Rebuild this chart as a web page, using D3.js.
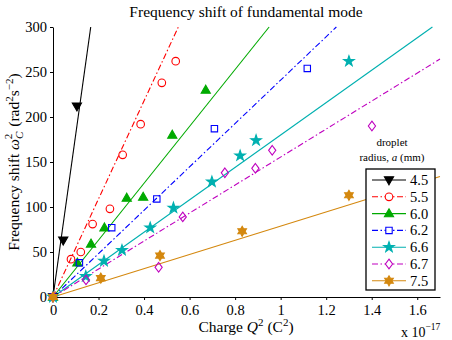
<!DOCTYPE html>
<html>
<head>
<meta charset="utf-8">
<script src="https://cdn.jsdelivr.net/npm/d3@7"></script>
<style>
  body { margin: 0; background: #fff; }
  svg { display: block; }
  text { font-family: "Liberation Serif", "Times New Roman", serif; fill: #000; }
</style>
</head>
<body>
<div id="chart"></div>
<script>
// droplet radius (mm), one series each
var radii = ["4.5", "5.5", "6.0", "6.2", "6.6", "6.7", "7.5"];

// charge Q^2 (x 1e-17 C^2) and frequency shift (rad^2 s^-2)
var q45 = [0, 0.045, 0.105];
var w45 = [0, 63, 212];
var q55 = [0, 0.079, 0.122, 0.174, 0.250, 0.306, 0.385, 0.478, 0.539];
var w55 = [0, 42, 50, 81, 98, 158, 192, 238, 262];
var q60 = [0, 0.107, 0.167, 0.226, 0.324, 0.396, 0.524, 0.671];
var w60 = [0, 38, 59, 77, 110, 111, 180, 230];
var q62 = [0, 0.116, 0.258, 0.456, 0.709, 1.117];
var w62 = [0, 38, 77, 109, 187, 254];
var q66 = [0, 0.144, 0.224, 0.303, 0.427, 0.529, 0.698, 0.822, 0.892, 1.300];
var w66 = [0, 23, 40, 52, 77, 99, 128, 157, 174, 262];
var q67 = [0, 0.145, 0.464, 0.570, 0.755, 0.889, 0.963, 1.401];
var w67 = [0, 19, 33, 89, 138, 143, 163, 190];
var q75 = [0, 0.210, 0.470, 0.831, 1.300];
var w75 = [0, 21, 46, 73, 113];

// fitted slopes of the lines through the origin
var slopes = [1810, 545, 316, 241, 180, 155.5, 78.7];

var xTicks = [0, 0.2, 0.4, 0.6, 0.8, 1, 1.2, 1.4, 1.6];
var yTicks = [0, 50, 100, 150, 200, 250, 300];

var xs = [q45, q55, q60, q62, q66, q67, q75];
var ys = [w45, w55, w60, w62, w66, w67, w75];

var colors = ["#000000", "#ff0000", "#00aa00", "#0000ff", "#00b0b0", "#bf00bf", "#d4880f"];
var dashes = [null, "6,2.5,1.5,2.5", null, "6,2.5,1.5,2.5", null, "6,2.5,1.5,2.5", null];
var markers = ["triDown", "circle", "triUp", "square", "star5", "diamond", "hexagram"];
var filled = [true, false, true, false, true, false, true];

var width = 452, height = 340;
var mLeft = 53, mRight = 440, mTop = 27, mBottom = 297;

var svg = d3.select("#chart").append("svg")
    .attr("width", width)
    .attr("height", height);

var x = d3.scaleLinear().domain([0, 1.7]).range([mLeft, mRight]);
var y = d3.scaleLinear().domain([0, 300]).range([mBottom, mTop]);

function starPath(n, R, r) {
  var pts = [];
  for (var i = 0; i < 2 * n; i++) {
    var a = -Math.PI / 2 + i * Math.PI / n;
    var rr = i % 2 ? r : R;
    pts.push([rr * Math.cos(a), rr * Math.sin(a)]);
  }
  return "M" + pts.map(p => p[0].toFixed(2) + "," + p[1].toFixed(2)).join("L") + "Z";
}

function markerPath(kind) {
  if (kind == "circle") return d3.symbol().type(d3.symbolCircle).size(Math.PI * 3.8 * 3.8)();
  if (kind == "triUp") return "M0,-4.8L4.6,3.2L-4.6,3.2Z";
  if (kind == "triDown") return "M0,4.8L4.6,-3.2L-4.6,-3.2Z";
  if (kind == "square") return "M-3.2,-3.2H3.2V3.2H-3.2Z";
  if (kind == "diamond") return "M0,-4.8L3.6,0L0,4.8L-3.6,0Z";
  if (kind == "star5") return starPath(5, 5.6, 2.2);
  if (kind == "hexagram") return starPath(6, 5, 2.9);
}

// axes
var xAxis = d3.axisBottom(x).tickValues(xTicks)
    .tickFormat(d => String(Math.round(d * 10) / 10))
    .tickSizeInner(3).tickSizeOuter(0).tickPadding(5);
var yAxis = d3.axisLeft(y).tickValues(yTicks)
    .tickSizeInner(3).tickSizeOuter(0).tickPadding(3);

var gx = svg.append("g").attr("transform", "translate(0," + mBottom + ")").call(xAxis);
var gy = svg.append("g").attr("transform", "translate(" + mLeft + ",0)").call(yAxis);
[gx, gy].forEach(function (g) {
  g.selectAll("text").style("font-family", '"Liberation Serif", serif').style("font-size", "14.5px").attr("fill", "#000");
  g.selectAll("line, path").attr("stroke", "#000");
});

// fitted lines
var plot = svg.append("g");
slopes.forEach(function (s, i) {
  var xEnd = Math.min(1.7, 300 / s);
  plot.append("line")
      .attr("x1", x(0)).attr("y1", y(0))
      .attr("x2", x(xEnd)).attr("y2", y(s * xEnd))
      .attr("stroke", colors[i])
      .attr("stroke-width", 1.1)
      .attr("stroke-dasharray", dashes[i]);
});

// data points
xs.forEach(function (qs, i) {
  plot.selectAll(null)
      .data(qs.map((q, j) => [q, ys[i][j]]))
      .enter()
      .append("path")
      .attr("d", markerPath(markers[i]))
      .attr("transform", d => "translate(" + x(d[0]) + "," + y(d[1]) + ")")
      .attr("fill", filled[i] ? colors[i] : "none")
      .attr("stroke", colors[i])
      .attr("stroke-width", 1.1);
});

// title
svg.append("text")
    .attr("x", 246).attr("y", 17)
    .attr("text-anchor", "middle")
    .style("font-size", "15.5px")
    .text("Frequency shift of fundamental mode");

// x label
var xl = svg.append("text")
    .attr("x", 246).attr("y", 332)
    .attr("text-anchor", "middle")
    .style("font-size", "15.5px");
xl.append("tspan").text("Charge ");
xl.append("tspan").style("font-style", "italic").text("Q");
xl.append("tspan").attr("dy", -6).style("font-size", "11px").text("2");
xl.append("tspan").attr("dy", 6).text(" (C");
xl.append("tspan").attr("dy", -6).style("font-size", "11px").text("2");
xl.append("tspan").attr("dy", 6).text(")");

// exponent note
var ex = svg.append("text")
    .attr("x", 401).attr("y", 337)
    .style("font-size", "14px");
ex.append("tspan").text("x 10");
ex.append("tspan").attr("dy", -7).style("font-size", "9.5px").text("\u221217");

// y label
var yl = svg.append("text")
    .attr("transform", "translate(19,162) rotate(-90)")
    .attr("text-anchor", "middle")
    .style("font-size", "15.5px");
yl.append("tspan").text("Frequency shift ");
yl.append("tspan").style("font-style", "italic").text("\u03c9");
yl.append("tspan").attr("dy", 4).style("font-size", "11px").style("font-style", "italic").text("C");
yl.append("tspan").attr("dx", -7.5).attr("dy", -11).style("font-size", "11px").text("2");
yl.append("tspan").attr("dx", 3).attr("dy", 7).text(" (rad");
yl.append("tspan").attr("dy", -6).style("font-size", "11px").text("2");
yl.append("tspan").attr("dy", 6).text("s");
yl.append("tspan").attr("dy", -6).style("font-size", "11px").text("\u22122");
yl.append("tspan").attr("dy", 6).text(")");

// legend
svg.append("text").attr("x", 392).attr("y", 146).attr("text-anchor", "middle")
    .style("font-size", "11px").text("droplet");
var lt = svg.append("text").attr("x", 392).attr("y", 161).attr("text-anchor", "middle")
    .style("font-size", "11px");
lt.append("tspan").text("radius, ");
lt.append("tspan").style("font-style", "italic").text("a");
lt.append("tspan").text(" (mm)");

var legend = svg.append("g");
legend.append("rect")
    .attr("x", 366).attr("y", 169).attr("width", 69).attr("height", 121)
    .attr("fill", "#fff").attr("stroke", "#000").attr("stroke-width", 1.3);

radii.forEach(function (r, i) {
  var cy = 180 + i * 16.8;
  legend.append("line")
      .attr("x1", 372).attr("x2", 406).attr("y1", cy).attr("y2", cy)
      .attr("stroke", colors[i]).attr("stroke-width", 1.1)
      .attr("stroke-dasharray", dashes[i]);
  legend.append("path")
      .attr("d", markerPath(markers[i]))
      .attr("transform", "translate(389," + cy + ")")
      .attr("fill", filled[i] ? colors[i] : "#fff")
      .attr("stroke", colors[i]).attr("stroke-width", 1.1);
  legend.append("text")
      .attr("x", 410).attr("y", cy + 5)
      .style("font-size", "14.5px")
      .text(r);
});
</script>
</body>
</html>
